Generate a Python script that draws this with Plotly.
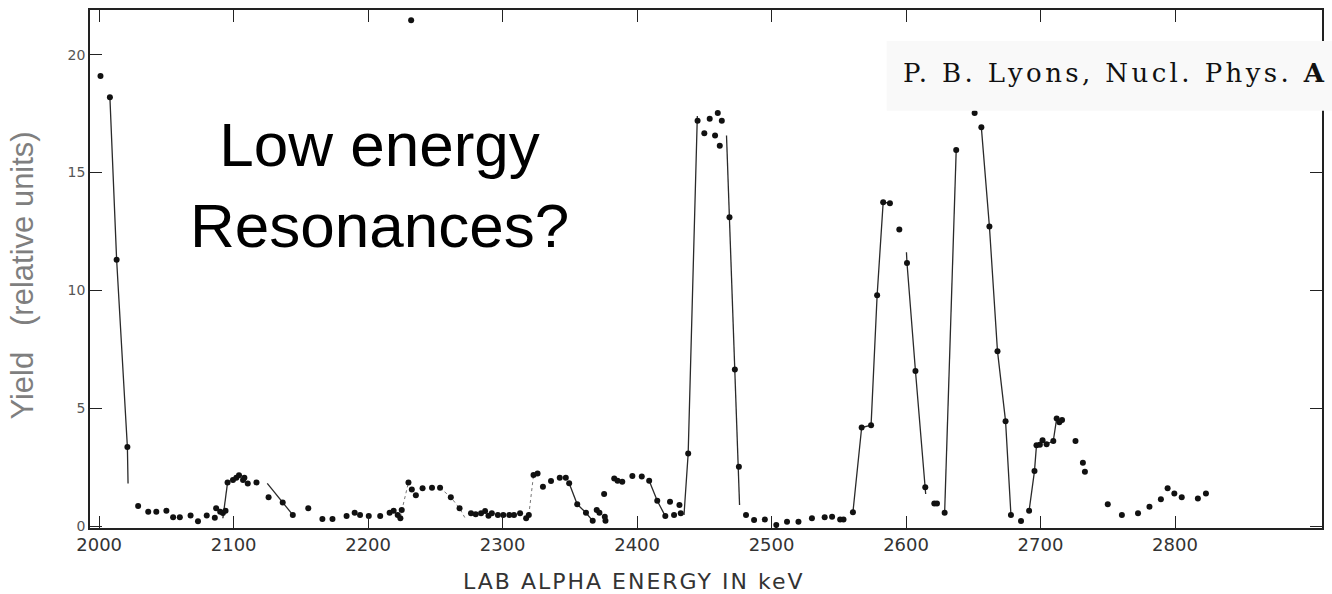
import plotly.graph_objects as go

# ---------------- data ----------------
energy = [2001, 2008, 2013, 2021,
          2029, 2036.5, 2042.5, 2050, 2055, 2060, 2068, 2073.5, 2080, 2086, 2087, 2090, 2092, 2094, 2095.5,
          2099.5, 2102, 2104, 2107, 2108, 2110.5, 2117,
          2126, 2136.5, 2144, 2155.5, 2166, 2173.5, 2184, 2190, 2194, 2200.5, 2209,
          2216, 2219, 2222, 2224, 2225,
          2230, 2232.5, 2235.5, 2240.5, 2247.5, 2253.5, 2261.5, 2268,
          2276.5, 2280, 2284, 2287, 2289.5, 2292, 2296.5, 2300.5, 2305, 2308.5, 2313, 2317.5, 2319.5,
          2323, 2326, 2330, 2336, 2342.5, 2347, 2349.5, 2355.5, 2362, 2367, 2370, 2372, 2375.5, 2376, 2376.5,
          2383, 2385.5, 2389, 2396.5, 2403.5, 2409, 2415, 2421, 2424.5, 2427.5, 2431.5, 2432.5,
          2438, 2445, 2450, 2454, 2458, 2460, 2461.5, 2463,
          2468.7, 2472.7, 2475.7,
          2481, 2487, 2495, 2503.5, 2511.5, 2520, 2530, 2539.5, 2545, 2551, 2553.5, 2560.5,
          2567, 2574, 2578.5, 2583, 2588, 2595, 2600.7, 2607, 2614.3,
          2621, 2623, 2628.7, 2637.3, 2651, 2656, 2662, 2668, 2674, 2678,
          2685.5, 2691.5, 2695.5, 2697, 2699.5, 2701.5, 2704.5, 2709.5, 2712, 2714, 2716,
          2726, 2731.5, 2733,
          2750, 2760.5, 2772.5, 2781, 2789.5, 2794.5, 2799.5, 2805, 2817, 2823,
          2232]
yield_ = [19.1, 18.2, 11.3, 3.35,
          0.85, 0.6, 0.6, 0.65, 0.37, 0.37, 0.45, 0.2, 0.45, 0.35, 0.75, 0.6, 0.55, 0.65, 1.85,
          1.95, 2.05, 2.15, 1.95, 2.05, 1.8, 1.85,
          1.22, 1.0, 0.47, 0.75, 0.3, 0.3, 0.42, 0.56, 0.47, 0.42, 0.42,
          0.56, 0.65, 0.47, 0.33, 0.68,
          1.85, 1.55, 1.3, 1.6, 1.62, 1.62, 1.22, 0.75,
          0.54, 0.5, 0.54, 0.64, 0.44, 0.54, 0.47, 0.47, 0.47, 0.47, 0.54, 0.33, 0.47,
          2.16, 2.23, 1.67, 1.91, 2.05, 2.05, 1.81, 0.92, 0.56, 0.22, 0.68, 0.56, 1.36, 0.39, 0.22,
          2.02, 1.92, 1.88, 2.12, 2.1, 1.92, 1.07, 0.42, 1.03, 0.47, 0.89, 0.54,
          3.08, 17.2, 16.67, 17.28, 16.57, 17.53, 16.14, 17.2,
          13.1, 6.64, 2.51,
          0.47, 0.25, 0.28, 0.04, 0.18, 0.18, 0.33, 0.37, 0.39, 0.28, 0.28, 0.58,
          4.18, 4.28, 9.79, 13.74, 13.7, 12.58, 11.16, 6.58, 1.64,
          0.96, 0.96, 0.56, 15.96, 17.53, 16.92, 12.71, 7.42, 4.45, 0.47,
          0.21, 0.65, 2.33, 3.43, 3.45, 3.64, 3.47, 3.61, 4.56, 4.4, 4.5,
          3.61, 2.68, 2.3,
          0.92, 0.47, 0.54, 0.82, 1.14, 1.6, 1.38, 1.22, 1.17, 1.38,
          21.47]

# hand-drawn solid curve segments (None separates segments)
line_e = [2008, 2013, 2021, 2021.5, None,
          2092, 2095.5, None,
          2125, 2136.5, 2144, None,
          2349.5, 2355.5, 2362, 2367, None,
          2409, 2415, 2421, None,
          2434.9, 2438, 2444.8, None,
          2466.5, 2468.7, 2472.7, 2475.7, 2476.2, None,
          2560.5, 2567, 2574, 2578.5, 2583, 2588, None,
          2600.3, 2600.7, 2607, 2614.3, 2614.6, None,
          2628.7, 2637.3, None,
          2656, 2662, 2668, 2674, 2678, None,
          2691.5, 2695.5, 2697, 2701.5, 2704.5, 2709.5, 2712]
line_y = [18.2, 11.3, 3.35, 1.8, None,
          0.33, 1.85, None,
          1.81, 1.0, 0.47, None,
          1.81, 0.92, 0.56, 0.22, None,
          1.92, 1.07, 0.42, None,
          0.47, 3.08, 17.4, None,
          16.57, 13.1, 6.64, 2.51, 0.89, None,
          0.58, 4.18, 4.28, 9.79, 13.74, 13.7, None,
          11.62, 11.16, 6.58, 1.64, 1.36, None,
          0.56, 15.96, None,
          16.92, 12.71, 7.42, 4.45, 0.47, None,
          0.65, 2.33, 3.43, 3.64, 3.47, 3.61, 4.56]

# faint dotted segments
dot_e = [2224, 2230, None, 2253.5, 2261.5, 2268, 2273, None, 2319.5, 2323]
dot_y = [0.4, 1.85, None, 1.62, 1.22, 0.75, 0.25, None, 0.47, 2.16]

x_ticks = [2000, 2100, 2200, 2300, 2400, 2500, 2600, 2700, 2800]
y_ticks = [0, 5, 10, 15, 20]

# ---------------- figure ----------------
L, R, T, B = 90, 8, 9, 66
W, H = 1332, 594
pw, ph = W - L - R, H - T - B


def px(x):
    return (x - L) / pw


def py(y):
    return (H - B - y) / ph


fig = go.Figure()
fig.add_trace(go.Scatter(x=dot_e, y=dot_y, mode="lines",
                         line=dict(color="#777", width=1, dash="dot"),
                         hoverinfo="skip", showlegend=False))
fig.add_trace(go.Scatter(x=line_e, y=line_y, mode="lines",
                         line=dict(color="#2a2a2a", width=1.3),
                         hoverinfo="skip", showlegend=False, connectgaps=False))
fig.add_trace(go.Scatter(x=energy, y=yield_, mode="markers",
                         marker=dict(color="#111", size=6),
                         showlegend=False))

axis_common = dict(showgrid=False, zeroline=False, showline=True, linecolor="#222",
                   linewidth=1.6, mirror="ticks", ticks="inside", tickcolor="#222",
                   tickwidth=1.3, ticklen=12)

fig.update_layout(
    width=W, height=H,
    margin=dict(l=L, r=R, t=T, b=B),
    paper_bgcolor="white", plot_bgcolor="white",
    xaxis=dict(range=[1993.2, 2909.3], tickmode="array", tickvals=x_ticks,
               ticktext=[str(v) for v in x_ticks],
               tickfont=dict(family="DejaVu Sans", size=18, color="#333"),
               **axis_common),
    yaxis=dict(range=[-0.085, 21.9], tickmode="array", tickvals=y_ticks,
               ticktext=[str(v) for v in y_ticks],
               tickfont=dict(family="DejaVu Sans", size=14, color="#555"),
               **axis_common),
    shapes=[dict(type="rect", xref="paper", yref="paper",
                 x0=px(888), x1=px(1345), y0=py(110), y1=py(40),
                 fillcolor="#f9f9f9", line=dict(width=0), layer="above")],
    annotations=[
        dict(text='<span style="letter-spacing:2px">LAB ALPHA ENERGY IN keV</span>',
             xref="paper", yref="paper",
             x=px(634), y=py(582), xanchor="center", yanchor="middle", showarrow=False,
             font=dict(family="DejaVu Sans", size=22, color="#333")),
        dict(text="Yield\u00a0\u00a0\u00a0(relative units)", xref="paper", yref="paper",
             x=px(22), y=py(275), xanchor="center", yanchor="middle", textangle=-90,
             showarrow=False,
             font=dict(family="Liberation Sans, Arial", size=31, color="#7f7f7f")),
        dict(text="Low energy<br>Resonances?", xref="paper", yref="paper",
             x=px(380), y=py(184), xanchor="center", yanchor="middle", align="center",
             showarrow=False,
             font=dict(family="Liberation Sans, Arial", size=62, color="#000")),
        dict(text='<span style="letter-spacing:3.4px">P. B. Lyons, Nucl. Phys. <b>A</b></span>',
             xref="paper", yref="paper", x=px(902), y=py(72),
             xanchor="left", yanchor="middle", showarrow=False,
             font=dict(family="DejaVu Serif", size=26, color="#111")),
    ],
)

fig.write_html("out.html")
